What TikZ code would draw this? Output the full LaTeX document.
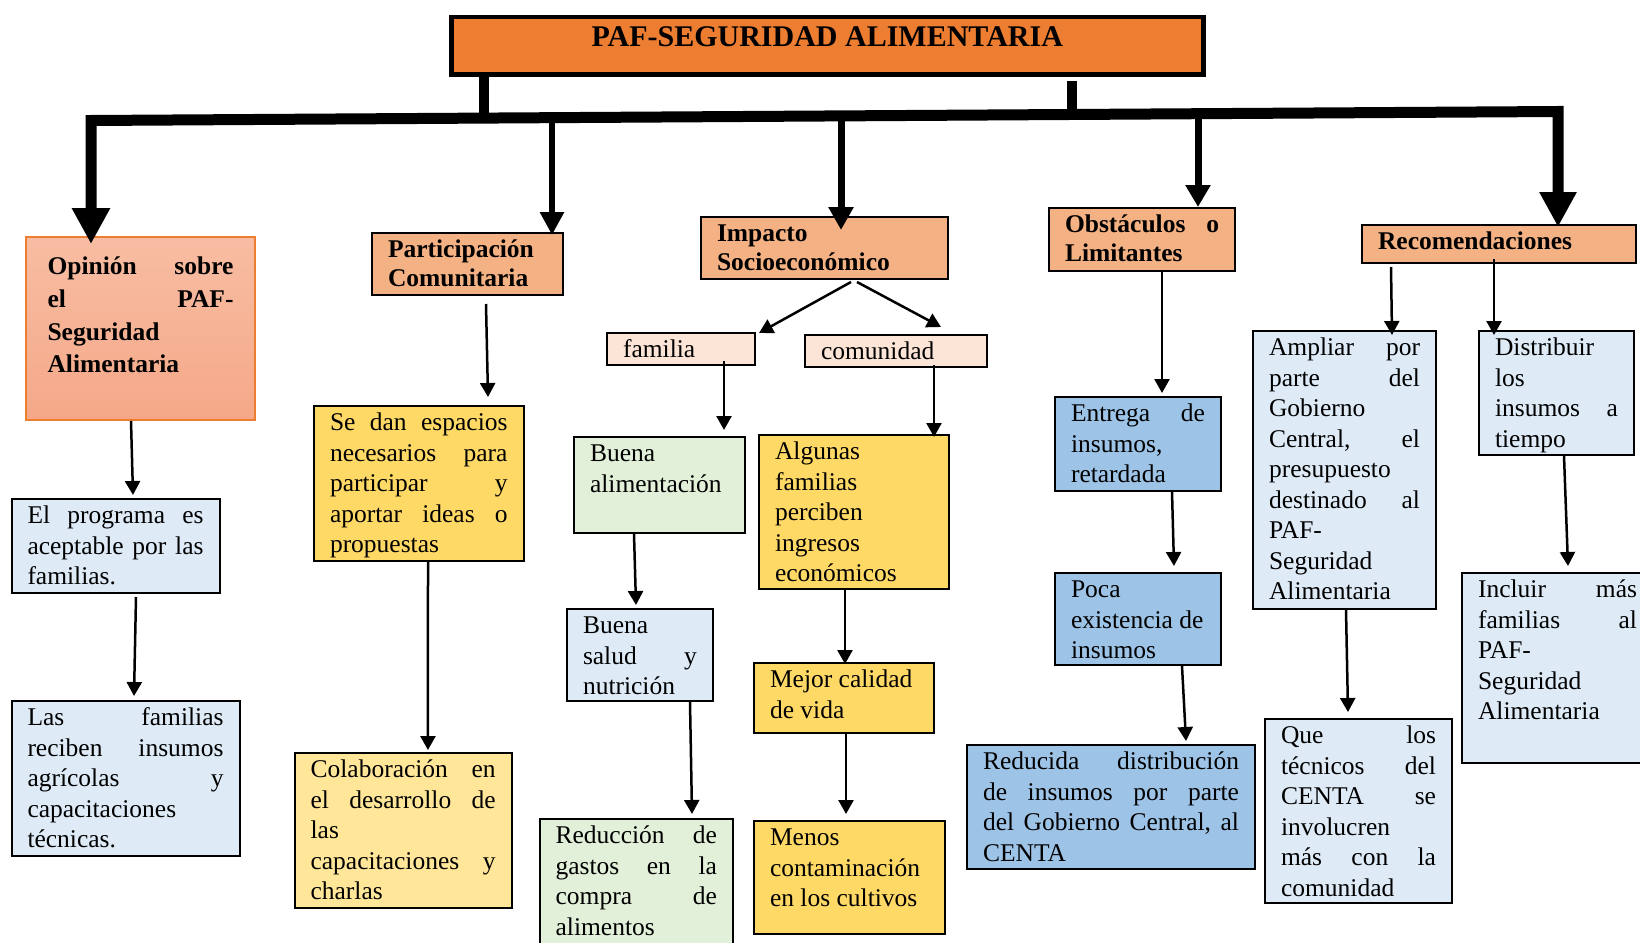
\documentclass[tikz,border=0pt]{standalone}
\usepackage{fontspec}
\setmainfont{Liberation Serif}
\usetikzlibrary{arrows.meta, positioning, calc}
\definecolor{titleorange}{HTML}{ED7D31}
\definecolor{headorange}{HTML}{F4B183}
\definecolor{salmontop}{HTML}{F8BDA3}
\definecolor{salmonbot}{HTML}{F5A888}
\definecolor{peach}{HTML}{FCE4D6}
\definecolor{paleblue}{HTML}{DEEBF7}
\definecolor{midblue}{HTML}{9DC3E6}
\definecolor{gold}{HTML}{FFD966}
\definecolor{lightgold}{HTML}{FFE699}
\definecolor{palegreen}{HTML}{E2F0D9}

% text block of fixed width and height, top aligned
\newcommand{\boxtxt}[3]{\parbox[t][#2][t]{#1}{\strut#3}}

\begin{document}
\begin{tikzpicture}[x=1pt, y=-1pt,
  box/.style={rectangle, draw=black, line width=2pt, anchor=north west, inner xsep=16pt, inner ysep=3.5pt, font=\fontsize{25.5}{30.5}\selectfont},
  head/.style={box, fill=headorange, font=\fontsize{25.5}{29.3}\selectfont\bfseries},
  bluebox/.style={box, fill=paleblue},
  deepbox/.style={box, fill=midblue},
  goldbox/.style={box, fill=gold},
  greenbox/.style={box, fill=palegreen},
  peachbox/.style={box, fill=peach},
  arrow/.style={-{Triangle[length=14pt,width=15pt]}, line width=2.5pt},
  trunk/.style={line width=11pt}
]
  \useasboundingbox (0,0) rectangle (1640,942);
  \clip (0,0) rectangle (1640,942);

  % Title
  \node[box, line width=4.5pt, fill=titleorange, inner ysep=5pt, font=\fontsize{30}{34.5}\selectfont\bfseries] (title) at (449,15) {\boxtxt{720pt}{47pt}{\centering PAF-SEGURIDAD ALIMENTARIA}};

  % Main branches
  \node[box, draw=titleorange, top color=salmontop, bottom color=salmonbot, inner xsep=21.5pt, inner ysep=15pt, font=\fontsize{25.5}{32.7}\selectfont\bfseries] (opinion) at (25,236) {\boxtxt{186pt}{153pt}{Opinión \hfill sobre\\ el \hfill PAF-\\ Seguridad\\ Alimentaria}};
  \node[head] (part) at (371,232) {\boxtxt{159pt}{55pt}{Participación\\ Comunitaria}};
  \node[head] (impacto) at (700,216) {\boxtxt{215pt}{55pt}{Impacto\\ Socioeconómico}};
  \node[head] (obst) at (1048,207) {\boxtxt{154pt}{56pt}{Obstáculos \hfill o\\ Limitantes}};
  \node[head] (recom) at (1361,224) {\boxtxt{242pt}{31pt}{Recomendaciones}};

  % Opinion
  \node[bluebox] (progr) at (10.5,498) {\boxtxt{176pt}{87pt}{El \hfill programa \hfill es\\ aceptable \hfill por \hfill las\\ familias.}};
  \node[bluebox] (lasfam) at (10.5,700) {\boxtxt{196pt}{148pt}{Las \hfill familias\\ reciben \hfill insumos\\ agrícolas \hfill y\\ capacitaciones\\ técnicas.}};

  % Participation
  \node[goldbox] (sedan) at (313,405) {\boxtxt{177.5pt}{148pt}{Se \hfill dan \hfill espacios\\ necesarios \hfill para\\ participar \hfill y\\ aportar \hfill ideas \hfill o\\ propuestas}};
  \node[box, fill=lightgold] (colab) at (293.6,752) {\boxtxt{185pt}{148pt}{Colaboración \hfill en\\ el \hfill desarrollo \hfill de\\ las\\ capacitaciones \hfill y\\ charlas}};

  % Impact
  \node[peachbox] (familia) at (606,332) {\boxtxt{116pt}{25pt}{familia}};
  \node[peachbox] (comunidad) at (804,334) {\boxtxt{150pt}{25pt}{comunidad}};
  \node[greenbox] (bualim) at (573,436) {\boxtxt{139pt}{89pt}{Buena\\ alimentación}};
  \node[bluebox] (busalud) at (566,608) {\boxtxt{114pt}{85pt}{Buena\\ salud \hfill y\\ nutrición}};
  \node[greenbox] (reduc) at (538.6,818) {\boxtxt{161.4pt}{128pt}{Reducción \hfill de\\ gastos \hfill en \hfill la\\ compra \hfill de\\ alimentos}};
  \node[goldbox] (algunas) at (758,434) {\boxtxt{158pt}{147pt}{Algunas\\ familias\\ perciben\\ ingresos\\ económicos}};
  \node[goldbox] (mejor) at (753,662) {\boxtxt{148pt}{63pt}{Mejor calidad\\ de vida}};
  \node[goldbox] (menos) at (753,820) {\boxtxt{159pt}{106pt}{Menos\\ contaminación\\ en los cultivos}};

  % Obstacles
  \node[deepbox] (entrega) at (1054,396) {\boxtxt{134pt}{87pt}{Entrega \hfill de\\ insumos,\\ retardada}};
  \node[deepbox] (poca) at (1054,572) {\boxtxt{134pt}{85pt}{Poca\\ existencia de\\ insumos}};
  \node[deepbox] (reducida) at (966,744) {\boxtxt{256pt}{117pt}{Reducida \hfill distribución\\ de \hfill insumos \hfill por \hfill parte\\ del \hfill Gobierno \hfill Central, \hfill al\\ CENTA}};

  % Recommendations
  \node[bluebox] (ampliar) at (1252,330) {\boxtxt{151pt}{271pt}{Ampliar \hfill por\\ parte \hfill del\\ Gobierno\\ Central, \hfill el\\ presupuesto\\ destinado \hfill al\\ PAF-\\ Seguridad\\ Alimentaria}};
  \node[bluebox] (distrib) at (1478,330) {\boxtxt{123pt}{117pt}{Distribuir\\ los\\ insumos \hfill a\\ tiempo}};
  \node[bluebox] (que) at (1264,718) {\boxtxt{155pt}{177pt}{Que \hfill los\\ técnicos \hfill del\\ CENTA \hfill se\\ involucren\\ más \hfill con \hfill la\\ comunidad}};
  \node[bluebox] (incluir) at (1461,572) {\boxtxt{159pt}{183pt}{Incluir \hfill más\\ familias \hfill al\\ PAF-\\ Seguridad\\ Alimentaria}};

  % Trunk
  \coordinate (b1) at (91,120.5);
  \coordinate (s1) at (484,118.1);
  \coordinate (b2) at (552,117.6);
  \coordinate (b3) at (841,115.9);
  \coordinate (s2) at (1072,114.5);
  \coordinate (b4) at (1198,113.7);
  \coordinate (b5) at (1558,111.5);

  \draw[line width=10.5pt] (title.south -| s1) -- (s1);
  \draw[line width=10.5pt] ($(title.south -| s2)+(0,4)$) -- ($(s2)+(0,4)$);
  \draw[trunk, {Triangle[length=36pt,width=36pt]}-{Triangle[length=35pt,width=35pt]}] ($(opinion.north -| b1)+(0,8)$) -- (b1) -- (b5) -- ($(recom.north -| b5)+(0,3)$);
  \draw[line width=6pt, -{Triangle[length=23pt,width=23pt]}] (b2) -- ($(part.north -| b2)+(0,3)$);
  \draw[line width=7pt, -{Triangle[length=23pt,width=24pt]}] (b3) -- ($(impacto.north -| b3)+(0,14)$);
  \draw[line width=7pt, -{Triangle[length=22pt,width=24pt]}] (b4) -- (obst.north -| b4);

  % Connectors
  \draw[arrow] ([xshift=-9.5pt]opinion.south) -- ([xshift=17.5pt, yshift=3pt]progr.north);
  \draw[arrow] ([xshift=20.5pt, yshift=-3pt]progr.south) -- ([xshift=8.5pt, yshift=4pt]lasfam.north);
  \draw[arrow] ([xshift=18.5pt, yshift=-8pt]part.south) -- ([xshift=69.25pt, yshift=8pt]sedan.north);
  \draw[arrow] ([xshift=9.25pt]sedan.south) -- ([xshift=24.85pt, yshift=2pt]colab.north);
  \draw[arrow] ([xshift=26.5pt, yshift=-2pt]impacto.south) -- ([xshift=3pt, yshift=-1pt]familia.north east);
  \draw[arrow] ([xshift=32.5pt, yshift=-2pt]impacto.south) -- ([xshift=45pt, yshift=7pt]comunidad.north);
  \draw[arrow] ([xshift=43pt, yshift=5pt]familia.south) -- ([xshift=64.5pt, yshift=6pt]bualim.north);
  \draw[arrow] ([xshift=38pt, yshift=3pt]comunidad.south) -- ([xshift=80pt, yshift=-3pt]algunas.north);
  \draw[arrow] ([xshift=-25.5pt]bualim.south) -- ([xshift=-4pt, yshift=3pt]busalud.north);
  \draw[arrow] ([xshift=-9pt]algunas.south) -- ([xshift=1pt, yshift=-2pt]mejor.north);
  \draw[arrow] ([xshift=50pt]busalud.south) -- ([xshift=55.7pt, yshift=4pt]reduc.north);
  \draw[arrow] ([xshift=2pt]mejor.south) -- ([xshift=-3.5pt, yshift=6pt]menos.north);
  \draw[arrow] ([xshift=20pt]obst.south) -- ([xshift=24pt, yshift=3pt]entrega.north);
  \draw[arrow] ([xshift=34pt]entrega.south) -- ([xshift=36pt, yshift=6pt]poca.north);
  \draw[arrow] ([xshift=44pt]poca.south) -- ([xshift=75pt, yshift=3pt]reducida.north);
  \draw[arrow] ([xshift=-108pt, yshift=-3pt]recom.south) -- ([xshift=47.5pt, yshift=-5pt]ampliar.north);
  \draw[arrow] ([xshift=-5pt, yshift=5pt]recom.south) -- ([xshift=-62.5pt, yshift=-5pt]distrib.north);
  \draw[arrow] ([xshift=1.5pt]ampliar.south) -- ([xshift=-10.5pt, yshift=6pt]que.north);
  \draw[arrow] ([xshift=7.5pt]distrib.south) -- ([xshift=10.5pt, yshift=6pt]incluir.north);
\end{tikzpicture}
\end{document}
